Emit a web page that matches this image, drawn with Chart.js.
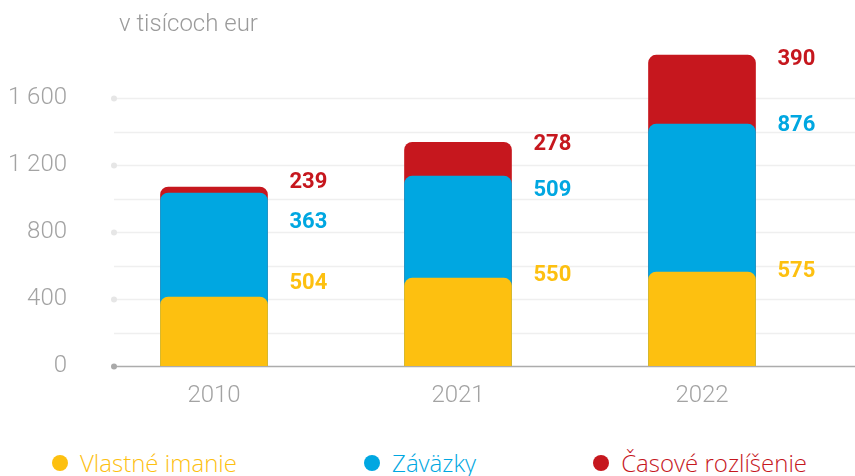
<!DOCTYPE html>
<html lang="sk">
<head>
<meta charset="utf-8">
<title>Štruktúra pasív</title>
<script src="https://cdn.jsdelivr.net/npm/chart.js@4.4.1/dist/chart.umd.min.js"></script>
<style>
    html, body { margin: 0; padding: 0; background: #fff; overflow: hidden; }
    #wrap { position: relative; width: 855px; height: 476px; }
    #box { position: absolute; left: 0; top: 0; width: 855px; height: 420px; }
    #title { position: absolute; left: 119px; top: 9px; font: 300 24px Roboto, sans-serif; color: #9b9b9b; }
    #legend {
        position: absolute; left: 0; top: 447px; width: 855px; box-sizing: border-box;
        padding: 0 48px 0 52px; display: flex; justify-content: space-between;
        font: 300 24px "Open Sans", sans-serif; line-height: 32px;
    }
    .item { display: flex; align-items: center; white-space: nowrap; }
    .item:nth-child(2) { margin-left: 10px; }
    .dot { width: 16px; height: 16px; border-radius: 50%; margin-right: 12px; }
</style>
</head>
<body>
<div id="wrap">
    <div id="box"><canvas id="myChart"></canvas></div>
    <div id="title">v tisícoch eur</div>
    <div id="legend"></div>
</div>
<script>
const years = ['2010', '2021', '2022'];
const seriesNames = ['Vlastné imanie', 'Záväzky', 'Časové rozlíšenie'];
const seriesColors = ['#fdc010', '#00a7e1', '#c6171e'];

// segment heights as drawn in the picture
const equityBar = [412, 525, 561];
const liabilitiesBar = [621, 609, 884];
const accrualsBar = [36, 203, 412];

// numbers printed next to the bars
const equityLabel = [504, 550, 575];
const liabilitiesLabel = [363, 509, 876];
const accrualsLabel = [239, 278, 390];

const yTicks = [0, 400, 800, 1200, 1600];

const barSets = [equityBar, liabilitiesBar, accrualsBar];
const labelSets = [equityLabel, liabilitiesLabel, accrualsLabel];

// bars overlap (each one starts at 0), so every dataset holds its running top
const tops = [];
let run = years.map(() => 0);
barSets.forEach(arr => {
    run = run.map((v, i) => v + arr[i]);
    tops.push(run);
});

function fmt(v) {
    return String(v).replace(/\B(?=(\d{3})+(?!\d))/g, ' ');
}

const gridLines = {
    id: 'gridLines',
    beforeDatasetsDraw(chart) {
        const { ctx, scales: { y } } = chart;
        const x0 = chart.chartArea.left + 22;
        ctx.save();
        y.ticks.forEach(t => {
            if (t.value % 200) return;
            const py = Math.round(y.getPixelForValue(t.value)) + 0.5;
            ctx.strokeStyle = t.value === 0 ? '#acacac' : '#efefef';
            ctx.lineWidth = 1.5;
            ctx.beginPath();
            ctx.moveTo(x0, py);
            ctx.lineTo(chart.width, py);
            ctx.stroke();
            if (yTicks.includes(t.value)) {
                ctx.fillStyle = t.value === 0 ? '#a9a9a9' : '#e6e6e6';
                ctx.beginPath();
                ctx.arc(x0, py, 3, 0, Math.PI * 2);
                ctx.fill();
            }
        });
        ctx.restore();
    }
};

const valueLabels = {
    id: 'valueLabels',
    afterDatasetsDraw(chart) {
        const { ctx, scales: { y } } = chart;
        const bars = chart.getDatasetMeta(0).data;
        ctx.save();
        ctx.font = 'bold 22px Roboto, sans-serif';
        ctx.textAlign = 'left';
        ctx.textBaseline = 'middle';
        years.forEach((yr, i) => {
            let sum = 0;
            labelSets.forEach((arr, s) => {
                sum += arr[i];
                ctx.fillStyle = seriesColors[s];
                ctx.fillText(String(arr[i]), bars[i].x + bars[i].width / 2 + 22, y.getPixelForValue(sum) + 2);
            });
        });
        ctx.restore();
    }
};

const tickFont = { family: 'Roboto', size: 24, weight: '300' };

const chart = new Chart(document.getElementById('myChart').getContext('2d'), {
    type: 'bar',
    data: {
        labels: years,
        datasets: seriesNames.map((name, s) => ({
            label: name,
            data: tops[s],
            backgroundColor: seriesColors[s],
            order: s,
            grouped: false,
            barThickness: 107,
            borderRadius: 8,
            borderSkipped: 'bottom'
        }))
    },
    options: {
        responsive: true,
        maintainAspectRatio: false,
        animation: false,
        layout: { padding: { top: 48, right: 31, left: 0, bottom: 0 } },
        plugins: {
            legend: { display: false },
            tooltip: { enabled: false }
        },
        scales: {
            x: {
                grid: { display: false, drawTicks: false },
                border: { display: false },
                ticks: { color: '#a3a3a3', font: tickFont, padding: 16 },
                afterFit: s => { s.height = 54; }
            },
            y: {
                min: 0,
                max: 1900,
                grid: { display: false, drawTicks: false },
                border: { display: false },
                ticks: {
                    stepSize: 200,
                    padding: 25,
                    color: '#a3a3a3',
                    font: tickFont,
                    autoSkip: false,
                    callback: v => yTicks.includes(v) ? fmt(v) : ''
                },
                afterFit: s => { s.width = 92; }
            }
        }
    },
    plugins: [gridLines, valueLabels]
});

// legend below the chart, text coloured like the series
const legend = document.getElementById('legend');
chart.data.datasets.forEach(ds => {
    const item = document.createElement('div');
    item.className = 'item';
    item.innerHTML = `<span class="dot" style="background:${ds.backgroundColor}"></span><span style="color:${ds.backgroundColor}">${ds.label}</span>`;
    legend.appendChild(item);
});
</script>
</body>
</html>
